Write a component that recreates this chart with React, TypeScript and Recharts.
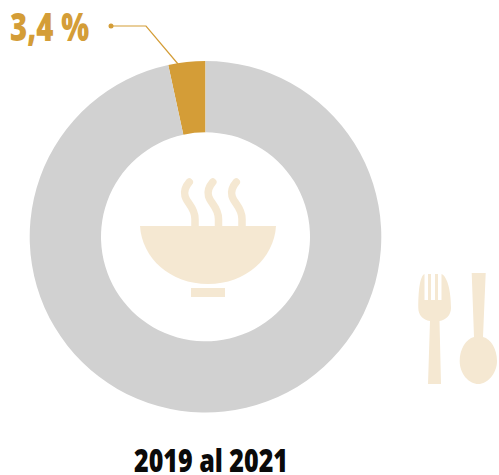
import React from 'react';
import { PieChart, Pie, Cell } from 'recharts';

const sliceNames = ['Subalimentación', 'Resto'];
const sliceValues = [3.4, 96.6];
const sliceColors = ['#D49D37', '#D1D1D1'];
const valueLabel = '3,4 %';
const periodLabel = '2019 al 2021';

const GOLD = '#D49D37';
const CREAM = '#F5E8D2';

const chartData = sliceNames.map((name, i) => ({ name, value: sliceValues[i] }));

const Steam = ({ dx }: { dx: number }) => (
    <path
        d={`M${189.3 + dx} 182 C${185 + dx} 187 ${184 + dx} 192 ${185 + dx} 196 C${186.5 + dx} 203 ${195 + dx} 207 ${195 + dx} 219 V227`}
        fill="none"
        stroke={CREAM}
        strokeWidth={7.5}
        strokeLinecap="round"
    />
);

const BowlIcon = () => (
    <g>
        <Steam dx={0} />
        <Steam dx={23.5} />
        <Steam dx={47} />
        <path d="M140 226 H276 C274 258 246 284 208 284 C170 284 142 258 140 226 Z" fill={CREAM} />
        <rect x={191} y={288} width={34} height={9} fill={CREAM} />
    </g>
);

const CutleryIcon = () => (
    <g fill={CREAM}>
        <path d="M424.5 274 V300 H428 V274 H431 V300 H435 V274 H438 V300 H441.5 V274 C447 276 451 290 451 308 C451 315 446 320 439.5 321 L441 384 H428 L430 321 C423 320 418.3 315 418.3 308 C418.3 290 420 276 424.5 274 Z" />
        <path d="M471.7 273 H485.7 L483 337 C491 339 497 349 497 361 C497 374 487 384 478.5 384 C469 384 459.7 374 459.7 361 C459.7 349 466 339 474 337 Z" />
    </g>
);

const Leader = () => (
    <g>
        <polyline points="111,26 146,26 178,64" fill="none" stroke={GOLD} strokeWidth={1.2} />
        <circle cx={111} cy={26} r={2.5} fill={GOLD} />
    </g>
);

export default function App() {
    return (
        <div style={{ position: 'absolute', left: 0, top: 0, width: 499, height: 475 }}>
            <PieChart width={499} height={475} margin={{ top: 0, right: 0, bottom: 0, left: 0 }}>
                <Pie
                    data={chartData}
                    dataKey="value"
                    nameKey="name"
                    cx={205.5}
                    cy={236.8}
                    innerRadius={104.5}
                    outerRadius={175.8}
                    startAngle={90}
                    endAngle={450}
                    stroke="none"
                    isAnimationActive={false}
                >
                    {chartData.map((d, i) => (
                        <Cell key={d.name} fill={sliceColors[i]} />
                    ))}
                </Pie>
                <BowlIcon />
                <CutleryIcon />
                <Leader />
                <text
                    x={10}
                    y={41}
                    fontFamily="'Open Sans', sans-serif"
                    fontWeight={800}
                    fontSize={38}
                    fill={GOLD}
                    textLength={79}
                    lengthAdjust="spacingAndGlyphs"
                >
                    {valueLabel}
                </text>
                <text
                    x={134}
                    y={472}
                    fontFamily="'Open Sans', sans-serif"
                    fontWeight={800}
                    fontSize={32}
                    fill="#0A0A0A"
                    textLength={154}
                    lengthAdjust="spacingAndGlyphs"
                >
                    {periodLabel}
                </text>
            </PieChart>
        </div>
    );
}
